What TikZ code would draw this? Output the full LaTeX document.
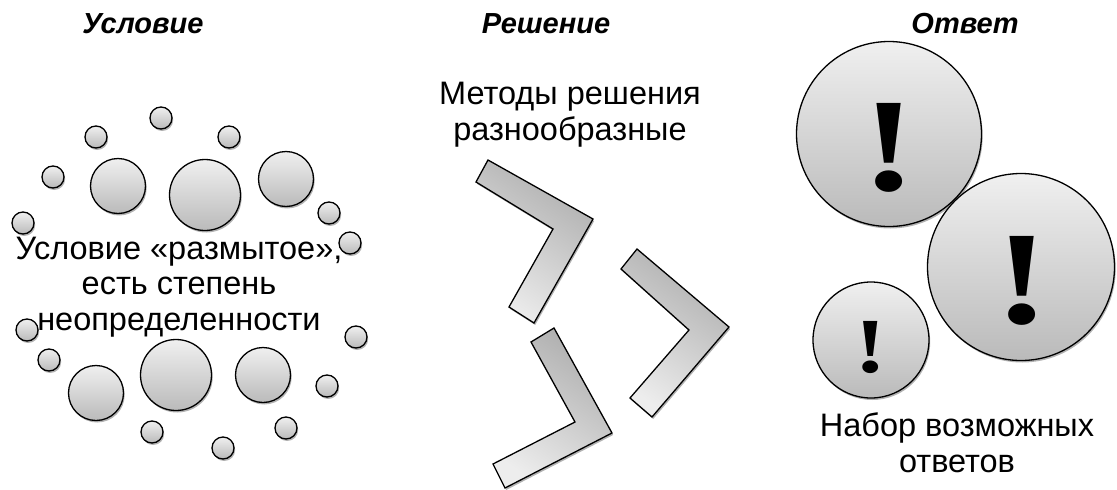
\documentclass[tikz,border=0pt]{standalone}
\usepackage{fontspec}
\setmainfont{Liberation Sans}
\newfontfamily\exclfont{Liberation Serif}
\usetikzlibrary{shadows}
\tikzset{
  shd/.style={drop shadow={shadow xshift=1.2pt,shadow yshift=-2pt,opacity=.55,fill=black!55}},
  bub/.style={circle,draw=black,line width=1.3pt,top color=black!6,bottom color=black!27,shd,inner sep=0pt},
  sm/.style={bub,minimum size=22pt},
  md/.style={bub,minimum size=55pt},
  lg/.style={bub,minimum size=71pt},
  chev/.style={draw=black,line width=1.3pt,line join=miter,top color=black!32,bottom color=black!7,shading angle=-35,shd},
  hdr/.style={font=\fontsize{29}{32}\selectfont\bfseries\itshape,anchor=base,inner sep=0pt},
  txt/.style={font=\fontsize{32.5}{35.5}\selectfont,align=center,anchor=base,inner sep=0pt},
  excl/.style={anchor=base,inner sep=0pt},
}
\begin{document}
\begin{tikzpicture}[x=1pt,y=-1pt]
\useasboundingbox (0,0) rectangle (1117,490);
% headers
\node[hdr] (h1) at (143,33) {Условие};
\node[hdr] (h2) at (546,33) {Решение};
\node[hdr] (h3) at (965,33) {Ответ};
% left bubbles
\node[sm] (s1) at (161,118) {};
\node[sm] (s2) at (96,137) {};
\node[sm] (s3) at (229,137) {};
\node[sm] (s4) at (53,177) {};
\node[sm] (s5) at (23,223) {};
\node[sm] (s6) at (329,213) {};
\node[sm] (s7) at (350,243) {};
\node[sm] (s8) at (27,330) {};
\node[sm] (s9) at (49,360) {};
\node[sm] (s10) at (356,337) {};
\node[sm] (s11) at (327,386) {};
\node[sm] (s12) at (152,432) {};
\node[sm] (s13) at (223,448) {};
\node[sm] (s14) at (286,428) {};
\node[md] (m1) at (118,186) {};
\node[lg] (m2) at (205,195) {};
\node[md] (m3) at (286,179) {};
\node[md] (m4) at (96,393) {};
\node[lg] (m5) at (176,375) {};
\node[md] (m6) at (263,375) {};
\node[txt] (t1) at (179,330) {Условие «размытое»,\\есть степень\\неопределенности};
% middle
\node[txt] (t2) at (570,140) {Методы решения\\разнообразные};
\path[chev] (488,160) -- (593,219) -- (534,323) -- (509,307) -- (553,229) -- (476,182) -- cycle;
\path[chev] (637,249) -- (729,327) -- (652,417) -- (630,398) -- (689,330) -- (621,269) -- cycle;
\path[chev] (531,342) -- (554,328) -- (612,433) -- (505,488) -- (493,464) -- (575,422) -- cycle;
% right
\node[bub,minimum size=185pt] (b1) at (889,134) {};
\node[bub,minimum size=187pt] (b2) at (1021,267) {};
\node[bub,minimum size=116pt] (b3) at (871,340) {};
\node[excl,font=\exclfont\bfseries\fontsize{133}{133}\selectfont] (e1) at (889,190) {\scalebox{1.25}[1]{!}};
\node[excl,font=\exclfont\bfseries\fontsize{133}{133}\selectfont] (e2) at (1022,323) {\scalebox{1.25}[1]{!}};
\node[excl,font=\exclfont\bfseries\fontsize{78}{78}\selectfont] (e3) at (871,372) {\scalebox{1.25}[1]{!}};
\node[txt] (t3) at (957,472) {Набор возможных\\ответов};
\end{tikzpicture}
\end{document}
